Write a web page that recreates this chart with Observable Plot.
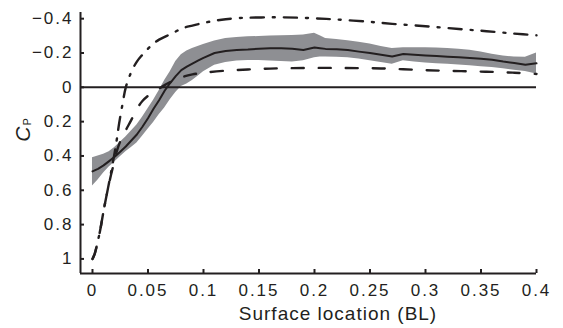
<!DOCTYPE html>
<html><head><meta charset="utf-8">
<script src="https://cdn.jsdelivr.net/npm/d3@7"></script>
<script src="https://cdn.jsdelivr.net/npm/@observablehq/plot@0.6"></script>
<style>body{margin:0;background:#fff} svg{display:block}</style>
</head><body><div id="chart"></div>
<script>
// Measured mean Cp with its spread band
const bandX = [0, 0.005, 0.01, 0.015, 0.02, 0.025, 0.03, 0.035, 0.04, 0.045, 0.05, 0.055, 0.06, 0.065, 0.07, 0.075, 0.08, 0.085, 0.09, 0.095, 0.1, 0.11, 0.12, 0.13, 0.14, 0.15, 0.16, 0.17, 0.18, 0.19, 0.2, 0.205, 0.21, 0.22, 0.23, 0.24, 0.25, 0.26, 0.27, 0.28, 0.29, 0.3, 0.31, 0.32, 0.33, 0.34, 0.35, 0.36, 0.37, 0.38, 0.39, 0.4];
const meanY = [0.49, 0.475, 0.455, 0.43, 0.405, 0.375, 0.345, 0.31, 0.275, 0.23, 0.18, 0.125, 0.075, 0.02, -0.025, -0.065, -0.1, -0.12, -0.138, -0.155, -0.172, -0.2, -0.212, -0.217, -0.22, -0.225, -0.228, -0.227, -0.225, -0.218, -0.232, -0.228, -0.224, -0.222, -0.217, -0.208, -0.2, -0.19, -0.18, -0.194, -0.19, -0.186, -0.182, -0.178, -0.175, -0.171, -0.167, -0.16, -0.15, -0.142, -0.132, -0.14];
const bandUpper = [0.41, 0.40, 0.39, 0.375, 0.35, 0.32, 0.29, 0.255, 0.22, 0.175, 0.125, 0.075, 0.02, -0.04, -0.09, -0.15, -0.19, -0.212, -0.226, -0.238, -0.25, -0.27, -0.284, -0.291, -0.294, -0.296, -0.299, -0.3, -0.302, -0.305, -0.315, -0.3, -0.284, -0.278, -0.272, -0.262, -0.252, -0.238, -0.226, -0.23, -0.231, -0.231, -0.229, -0.226, -0.222, -0.216, -0.206, -0.192, -0.182, -0.177, -0.175, -0.2];
const bandLower = [0.575, 0.54, 0.50, 0.465, 0.435, 0.405, 0.375, 0.35, 0.325, 0.285, 0.245, 0.205, 0.16, 0.12, 0.072, 0.03, -0.005, -0.02, -0.04, -0.065, -0.09, -0.128, -0.145, -0.153, -0.156, -0.156, -0.154, -0.15, -0.147, -0.155, -0.172, -0.176, -0.176, -0.175, -0.172, -0.165, -0.155, -0.145, -0.135, -0.155, -0.148, -0.142, -0.138, -0.135, -0.13, -0.125, -0.12, -0.115, -0.108, -0.1, -0.092, -0.078];

// Dashed curve
const dashX = [0, 0.002, 0.004, 0.007, 0.01, 0.013, 0.016, 0.019, 0.022, 0.026, 0.03, 0.035, 0.04, 0.045, 0.05, 0.055, 0.06, 0.065, 0.07, 0.08, 0.09, 0.1, 0.12, 0.14, 0.16, 0.18, 0.2, 0.22, 0.24, 0.26, 0.28, 0.3, 0.32, 0.34, 0.36, 0.38, 0.4];
const dashY = [1.0, 0.97, 0.92, 0.83, 0.72, 0.62, 0.53, 0.45, 0.37, 0.30, 0.25, 0.19, 0.125, 0.08, 0.05, 0.028, 0.007, -0.013, -0.03, -0.058, -0.075, -0.085, -0.097, -0.104, -0.109, -0.112, -0.113, -0.113, -0.112, -0.11, -0.105, -0.1, -0.096, -0.093, -0.09, -0.085, -0.078];

// Dash-dot curve
const ddX = [0, 0.002, 0.004, 0.007, 0.01, 0.013, 0.016, 0.018, 0.02, 0.022, 0.024, 0.027, 0.03, 0.035, 0.04, 0.045, 0.05, 0.055, 0.06, 0.067, 0.075, 0.08, 0.09, 0.1, 0.11, 0.12, 0.133, 0.15, 0.17, 0.2, 0.22, 0.247, 0.27, 0.3, 0.33, 0.355, 0.38, 0.4];
const ddY = [1.0, 0.97, 0.92, 0.83, 0.72, 0.62, 0.52, 0.45, 0.38, 0.3, 0.21, 0.1, 0.0, -0.09, -0.15, -0.19, -0.225, -0.255, -0.278, -0.3, -0.325, -0.342, -0.36, -0.375, -0.388, -0.397, -0.404, -0.407, -0.408, -0.402, -0.395, -0.383, -0.37, -0.356, -0.34, -0.327, -0.313, -0.303];

const xTicks = [0, 0.05, 0.1, 0.15, 0.2, 0.25, 0.3, 0.35, 0.4];
const xTickLabels = ["0", "0.05", "0.1", "0.15", "0.2", "0.25", "0.3", "0.35", "0.4"];
const yTicks = [-0.4, -0.2, 0, 0.2, 0.4, 0.6, 0.8, 1];
const yTickLabels = ["\u22120.4", "\u22120.2", "0", "0.2", "0.4", "0.6", "0.8", "1"];
const xLabel = "Surface location (BL)";
const yLabelMain = "C";
const yLabelSub = "P";

const xDomain = [-0.0108, 0.4];
const yDomain = [1.085, -0.436];

const band = bandX.map((x, i) => ({x, mean: meanY[i], hi: bandUpper[i], lo: bandLower[i]}));
const dash = dashX.map((x, i) => ({x, y: dashY[i]}));
const dd = ddX.map((x, i) => ({x, y: ddY[i]}));

const ink = "#231f20";
const font = "'Liberation Sans', Arial, Helvetica, sans-serif";

const chart = Plot.plot({
  width: 563, height: 328,
  marginLeft: 80, marginRight: 27, marginTop: 12, marginBottom: 55,
  style: {fontFamily: font, fontSize: "17px", color: ink, background: "#fff", letterSpacing: "2px"},
  x: {domain: xDomain},
  y: {domain: yDomain},
  marks: [
    Plot.areaY(band, {x: "x", y1: "lo", y2: "hi", fill: "#8e8f93"}),
    Plot.ruleY([0], {x1: xDomain[0], x2: 0.4, stroke: ink, strokeWidth: 2}),
    Plot.line(band, {x: "x", y: "mean", stroke: ink, strokeWidth: 2}),
    Plot.line(dash, {x: "x", y: "y", stroke: ink, strokeWidth: 2.4, strokeDasharray: "12,15", curve: "catmull-rom"}),
    Plot.line(dd, {x: "x", y: "y", stroke: ink, strokeWidth: 2.4, strokeDasharray: "13,9,2,9", curve: "catmull-rom"}),
    Plot.ruleX([xDomain[0]], {stroke: ink, strokeWidth: 2}),
    Plot.ruleY([yDomain[0]], {x1: xDomain[0], x2: 0.4, stroke: ink, strokeWidth: 2}),
    Plot.axisY(yTicks, {tickSize: -4, tickPadding: 11, strokeWidth: 2, tickFormat: d => yTickLabels[yTicks.indexOf(d)], label: null}),
    Plot.axisX(xTicks, {tickSize: -4, tickPadding: 14, strokeWidth: 2, tickFormat: d => xTickLabels[xTicks.indexOf(d)], label: null})
  ]
});

const svg = d3.select(chart);
svg.append("text")
  .attr("x", 338).attr("y", 320)
  .attr("text-anchor", "middle")
  .attr("font-family", font).attr("font-size", 19).attr("letter-spacing", "1px")
  .attr("fill", ink)
  .text(xLabel);

const yl = svg.append("text")
  .attr("transform", "translate(30,130) rotate(-90)")
  .attr("text-anchor", "middle")
  .attr("font-family", font).attr("fill", ink).attr("letter-spacing", "0px");
yl.append("tspan").attr("font-size", 21).attr("font-style", "italic").text(yLabelMain);
yl.append("tspan").attr("font-size", 11).attr("dy", 1).attr("dx", 1).text(yLabelSub);

document.getElementById("chart").appendChild(chart);
</script>
</body></html>
